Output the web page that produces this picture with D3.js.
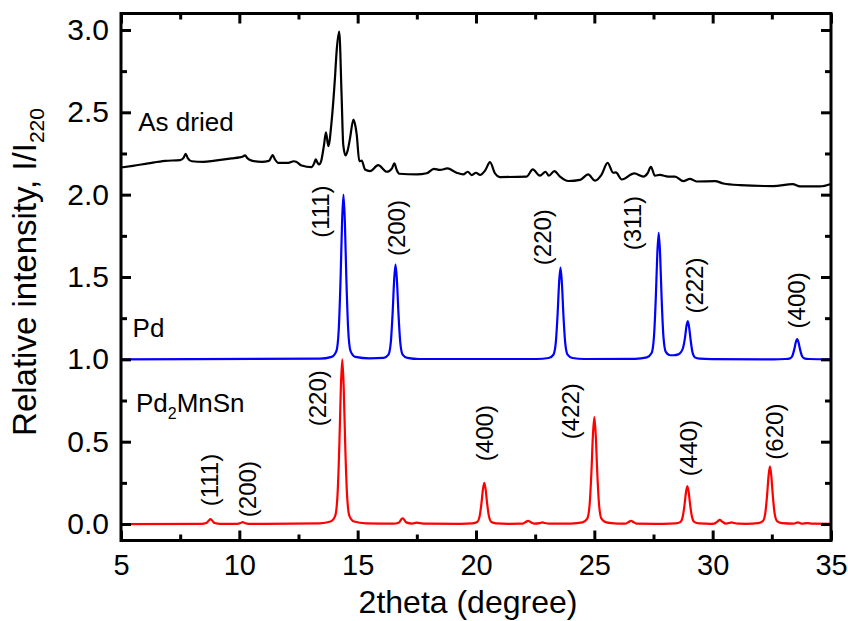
<!DOCTYPE html>
<html>
<head>
<meta charset="utf-8">
<script src="https://cdn.jsdelivr.net/npm/d3@7"></script>
<style>
  html, body { margin: 0; padding: 0; background: #fff; }
  svg { display: block; font-family: "Liberation Sans", Arial, sans-serif; }
</style>
</head>
<body>
<svg id="chart" width="848" height="621"></svg>
<script>
// X-ray diffraction patterns, intensity normalised to the strongest reflection.
// Each trace is stacked with its own vertical offset (Pd2MnSn 0, Pd 1, as dried 2).

const pd2mnsn = [
  [5,0],[8.4,0.001],[8.6,0.006],[8.7,0.02],[8.78,0.03],[8.86,0.02],[8.96,0.006],[9.2,0.001],
  [9.9,0.001],[10.05,0.006],[10.14,0.012],[10.23,0.006],[10.4,0.001],
  [13.4,0.004],[13.85,0.015],[14.05,0.05],[14.15,0.18],[14.23,0.5],[14.29,0.83],[14.35,1.0],
  [14.41,0.83],[14.47,0.5],[14.55,0.18],[14.65,0.05],[14.85,0.015],[15.35,0.004],
  [16.5,0.002],[16.75,0.01],[16.84,0.028],[16.9,0.035],[16.96,0.028],[17.05,0.01],[17.3,0.003],
  [17.5,0.008],[17.6,0.006],[17.9,0.002],
  [19.35,0.001],[19.85,0.004],[20.05,0.0125],[20.15,0.045],[20.23,0.125],[20.29,0.207],[20.35,0.25],
  [20.41,0.207],[20.47,0.125],[20.55,0.045],[20.65,0.0125],[20.85,0.004],[21.35,0.001],
  [21.95,0.002],[22.1,0.012],[22.2,0.02],[22.3,0.012],[22.45,0.003],[22.7,0.006],[22.8,0.01],
  [22.9,0.006],[23.1,0.002],
  [24.0,0.003],[24.5,0.01],[24.7,0.033],[24.8,0.117],[24.88,0.325],[24.94,0.54],[25.0,0.65],
  [25.06,0.54],[25.12,0.325],[25.2,0.117],[25.3,0.033],[25.5,0.01],[26.0,0.003],
  [26.3,0.002],[26.45,0.012],[26.55,0.02],[26.65,0.012],[26.8,0.002],
  [27.93,0.001],[28.43,0.0035],[28.63,0.0115],[28.73,0.041],[28.81,0.115],[28.87,0.19],[28.93,0.23],
  [28.99,0.19],[29.05,0.115],[29.13,0.041],[29.23,0.0115],[29.43,0.0035],[29.93,0.001],
  [30.05,0.002],[30.2,0.015],[30.3,0.025],[30.4,0.015],[30.55,0.003],[30.7,0.006],[30.8,0.01],
  [30.9,0.006],[31.1,0.002],
  [31.42,0.0014],[31.92,0.005],[32.12,0.0175],[32.22,0.063],[32.3,0.175],[32.36,0.29],[32.42,0.35],
  [32.48,0.29],[32.54,0.175],[32.62,0.063],[32.72,0.0175],[32.92,0.005],[33.42,0.002],
  [33.6,0.01],[33.75,0.003],[34.0,0.006],[34.2,0.002],[35,0.001]
];

const pd = [
  [5,1.0],[13.4,1.004],[13.9,1.015],[14.1,1.05],[14.2,1.18],[14.28,1.5],[14.34,1.83],[14.4,2.0],
  [14.46,1.83],[14.52,1.5],[14.6,1.18],[14.7,1.05],[14.9,1.015],[15.5,1.006],
  [16.1,1.009],[16.3,1.029],[16.4,1.1035],[16.48,1.29],[16.54,1.477],[16.6,1.575],[16.66,1.477],
  [16.72,1.29],[16.8,1.1035],[16.9,1.029],[17.1,1.009],[17.6,1.002],
  [22.57,1.002],[23.07,1.008],[23.27,1.028],[23.37,1.1],[23.45,1.28],[23.51,1.462],[23.57,1.557],
  [23.63,1.462],[23.69,1.28],[23.77,1.1],[23.87,1.028],[24.07,1.008],[24.57,1.002],
  [26.72,1.003],[27.22,1.012],[27.42,1.038],[27.52,1.138],[27.6,1.384],[27.66,1.637],[27.72,1.768],
  [27.78,1.637],[27.84,1.384],[27.92,1.138],[28.02,1.045],[28.2,1.025],[28.35,1.025],
  [28.55,1.03],[28.65,1.042],[28.75,1.07],[28.83,1.13],[28.89,1.2],[28.95,1.232],[29.01,1.19],
  [29.07,1.116],[29.15,1.041],[29.25,1.012],[29.45,1.004],[29.95,1.001],
  [32.57,1.0],[33.07,1.002],[33.27,1.006],[33.37,1.022],[33.45,1.062],[33.51,1.102],[33.57,1.123],
  [33.63,1.102],[33.69,1.062],[33.77,1.022],[33.87,1.006],[34.07,1.002],[35,1.0]
];

const asDried = [
  [5,2.165],[5.5,2.175],[6.15,2.19],[6.86,2.205],[7.5,2.21],[7.65,2.225],[7.73,2.248],[7.82,2.222],
  [7.99,2.203],[8.48,2.199],[8.97,2.207],[9.68,2.22],[10.0,2.226],[10.15,2.232],[10.24,2.238],
  [10.35,2.22],[10.52,2.207],[10.94,2.199],[11.25,2.205],[11.35,2.228],[11.41,2.24],[11.5,2.215],
  [11.65,2.193],[12.07,2.193],[12.3,2.203],[12.4,2.2],[12.63,2.177],[13.06,2.167],[13.16,2.19],
  [13.23,2.214],[13.3,2.195],[13.37,2.183],[13.45,2.2],[13.58,2.304],[13.66,2.379],[13.76,2.294],
  [13.9,2.446],[14.04,2.708],[14.11,2.869],[14.22,2.99],[14.32,2.607],[14.39,2.304],[14.49,2.238],
  [14.58,2.27],[14.68,2.345],[14.82,2.456],[14.9,2.42],[14.96,2.365],[15.07,2.203],[15.17,2.207],
  [15.31,2.153],[15.52,2.143],[15.87,2.179],[16.23,2.139],[16.45,2.16],[16.55,2.19],[16.65,2.15],
  [16.76,2.127],[17.49,2.123],[17.92,2.13],[18.22,2.157],[18.48,2.15],[18.79,2.159],[19.18,2.133],
  [19.46,2.123],[19.65,2.139],[19.82,2.119],[20.0,2.133],[20.17,2.12],[20.4,2.15],[20.59,2.197],
  [20.8,2.13],[21.01,2.107],[22.14,2.11],[22.4,2.153],[22.7,2.115],[22.94,2.139],[23.08,2.115],
  [23.31,2.143],[23.55,2.11],[23.9,2.083],[24.4,2.09],[24.74,2.123],[25.03,2.085],[25.3,2.12],
  [25.56,2.193],[25.8,2.133],[25.91,2.135],[26.16,2.092],[26.69,2.129],[27.07,2.11],[27.25,2.13],
  [27.39,2.169],[27.56,2.115],[27.77,2.12],[28.12,2.11],[28.41,2.11],[28.76,2.082],[29.04,2.096],
  [29.32,2.08],[30.1,2.082],[30.45,2.068],[31.15,2.058],[32.56,2.052],[33.38,2.064],[33.69,2.05],
  [34.53,2.05],[35,2.065]
];

// Miller indices: [label, 2theta of label centre, intensity of label centre]
const pdLabels = [
  ["(111)",13.41,1.897],["(200)",16.65,1.797],["(220)",22.83,1.742],
  ["(311)",26.63,1.827],["(222)",29.25,1.448],["(400)",33.56,1.358]
];
const pd2mnsnLabels = [
  ["(111)",8.72,0.267],["(200)",10.35,0.212],["(220)",13.32,0.764],["(400)",20.38,0.552],
  ["(422)",24.01,0.685],["(440)",28.96,0.461],["(620)",32.63,0.561]
];

const xMajorTicks = [5,10,15,20,25,30,35];
const xMinorTicks = [7.5,12.5,17.5,22.5,27.5,32.5];
const yMajorTicks = [0,0.5,1.0,1.5,2.0,2.5,3.0];
const yMinorTicks = [0.25,0.75,1.25,1.75,2.25,2.75];

const svg = d3.select("#chart");
const L = 121, R = 831, T = 13.5, B = 540.5;
const x = d3.scaleLinear().domain([5,35]).range([L,R]);
const y = d3.scaleLinear().domain([-0.1,3.1]).range([B,T]);

const line = d3.line().x(d => x(d[0])).y(d => y(d[1])).curve(d3.curveMonotoneX);

const plot = svg.append("g");
plot.append("path").datum(asDried).attr("d", line)
  .attr("fill","none").attr("stroke","#000").attr("stroke-width",2.2).attr("stroke-linejoin","round");
plot.append("path").datum(pd).attr("d", line)
  .attr("fill","none").attr("stroke","#0000ff").attr("stroke-width",2.2).attr("stroke-linejoin","round");
plot.append("path").datum(pd2mnsn).attr("d", line)
  .attr("fill","none").attr("stroke","#ff0000").attr("stroke-width",2.2).attr("stroke-linejoin","round");

// Axes: ticks pointing inward on all four sides
const tickStyle = size => g => g.call(s => s.select(".domain").remove())
  .call(s => s.selectAll("line").attr("stroke","#000").attr("stroke-width",3))
  .call(s => s.selectAll("text").attr("font-size",size).attr("fill","#000"));

svg.append("g").attr("transform",`translate(0,${B})`)
  .call(d3.axisBottom(x).tickValues(xMajorTicks).tickSize(-10).tickPadding(14).tickFormat(d3.format("d")))
  .call(tickStyle(29));
svg.append("g").attr("transform",`translate(0,${B})`)
  .call(d3.axisBottom(x).tickValues(xMinorTicks).tickSize(-6).tickFormat(""))
  .call(tickStyle(29));
svg.append("g").attr("transform",`translate(0,${T})`)
  .call(d3.axisTop(x).tickValues(xMajorTicks).tickSize(-10).tickFormat(""))
  .call(tickStyle(29));
svg.append("g").attr("transform",`translate(0,${T})`)
  .call(d3.axisTop(x).tickValues(xMinorTicks).tickSize(-6).tickFormat(""))
  .call(tickStyle(29));
svg.append("g").attr("transform",`translate(${L},0)`)
  .call(d3.axisLeft(y).tickValues(yMajorTicks).tickSize(-10).tickPadding(12).tickFormat(d3.format(".1f")))
  .call(tickStyle(30));
svg.append("g").attr("transform",`translate(${L},0)`)
  .call(d3.axisLeft(y).tickValues(yMinorTicks).tickSize(-6).tickFormat(""))
  .call(tickStyle(30));
svg.append("g").attr("transform",`translate(${R},0)`)
  .call(d3.axisRight(y).tickValues(yMajorTicks).tickSize(-10).tickFormat(""))
  .call(tickStyle(30));
svg.append("g").attr("transform",`translate(${R},0)`)
  .call(d3.axisRight(y).tickValues(yMinorTicks).tickSize(-6).tickFormat(""))
  .call(tickStyle(30));

svg.append("rect").attr("x",L).attr("y",T).attr("width",R-L).attr("height",B-T)
  .attr("fill","none").attr("stroke","#000").attr("stroke-width",3);

// Axis titles
svg.append("text").attr("x",468).attr("y",613).attr("text-anchor","middle")
  .attr("font-size",32).text("2theta (degree)");
const yt = svg.append("text").attr("transform","translate(36,272) rotate(-90)")
  .attr("text-anchor","middle").attr("font-size",33);
yt.append("tspan").text("Relative intensity, I/I");
yt.append("tspan").attr("font-size",21).attr("dy",8).text("220");

// Trace names
svg.append("text").attr("x",x(5.73)).attr("y",y(2.388)).attr("font-size",26).text("As dried");
svg.append("text").attr("x",x(5.49)).attr("y",y(1.133)).attr("font-size",26).text("Pd");
const pn = svg.append("text").attr("x",x(5.63)).attr("y",y(0.68)).attr("font-size",26);
pn.append("tspan").text("Pd");
pn.append("tspan").attr("font-size",16).attr("dy",7).text("2");
pn.append("tspan").attr("dy",-7).text("MnSn");

// Reflection labels, written upward
const hkl = svg.append("g").attr("font-size",24);
pdLabels.concat(pd2mnsnLabels).forEach(([t,tx,ty]) => {
  hkl.append("text")
    .attr("transform",`translate(${x(tx)},${y(ty)}) rotate(-90)`)
    .attr("text-anchor","middle").attr("dominant-baseline","central")
    .text(t);
});
</script>
</body>
</html>
